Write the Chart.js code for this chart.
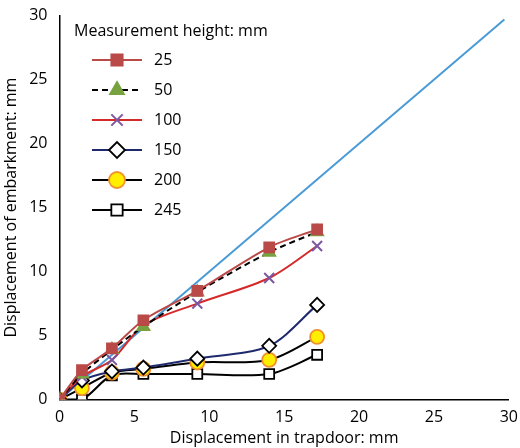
<!DOCTYPE html>
<html><head><meta charset="utf-8">
<script src="https://cdn.jsdelivr.net/npm/chart.js@4"></script>
<style>body{margin:0;background:#fff}#wrap{width:520px;height:448px}</style>
</head><body><div id="wrap"><canvas id="c"></canvas></div>
<script>
const xTrap = [0, 1.5, 3.5, 5.6, 9.2, 14, 17.2];
const h25  = [0, 2.3, 4.0, 6.2, 8.5, 11.9, 13.3];
const h50  = [0, 2.0, 3.9, 5.7, 8.4, 11.5, 13.1];
const h100 = [0, 1.8, 3.1, 5.8, 7.5, 9.5, 12.0];
const h150 = [0, 1.5, 2.2, 2.5, 3.2, 4.2, 7.4];
const h200 = [0, 0.9, 2.1, 2.4, 2.9, 3.1, 4.9];
const h245 = [0, 0, 1.9, 2.0, 2.0, 2.0, 3.5];
const refX = [0, 29.7];
const refY = [0, 29.7];

const pts = (ys, xs = xTrap) => ys.map((y, i) => ({ x: xs[i], y }));

const series = [
  { label: "25", data: h25, line: "#b94a48", fill: "#b94a48", stroke: "#b94a48", style: "rect", dash: [] },
  { label: "50", data: h50, line: "#000", fill: "#77a23f", stroke: "#77a23f", style: "triangle", dash: [6, 4] },
  { label: "100", data: h100, line: "#d42a2a", fill: "#7c56a0", stroke: "#7c56a0", style: "crossRot", dash: [] },
  { label: "150", data: h150, line: "#1f2a6e", fill: "#fff", stroke: "#000", style: "rectRot", dash: [] },
  { label: "200", data: h200, line: "#000", fill: "#ffee00", stroke: "#f0912c", style: "circle", dash: [] },
  { label: "245", data: h245, line: "#000", fill: "#fff", stroke: "#000", style: "rect", dash: [] }
];

const datasets = series.map(s => ({
  label: s.label, data: pts(s.data), borderColor: s.line, borderWidth: 2, borderDash: s.dash,
  pointStyle: s.style, pointBackgroundColor: s.fill, pointBorderColor: s.stroke,
  pointBorderWidth: s.style === "crossRot" ? 2 : 1.8, pointRadius: 7,
  tension: 0.3
}));
datasets.push({ label: "ref", data: pts(refY, refX), borderColor: "#4a9ad6", borderWidth: 2, pointRadius: 0 });

const legendPlugin = {
  id: "boxLegend",
  afterDraw(chart) {
    const ctx = chart.ctx;
    ctx.save();
    ctx.fillStyle = "#000";
    ctx.font = "16px 'Open Sans'";
    ctx.textBaseline = "middle";
    ctx.fillText("Measurement height: mm", 74, 31);
    series.forEach((s, i) => {
      const y = 60 + i * 30;
      ctx.strokeStyle = s.line; ctx.lineWidth = 2; ctx.setLineDash(s.dash);
      ctx.beginPath(); ctx.moveTo(92, y); ctx.lineTo(142, y); ctx.stroke();
      ctx.setLineDash([]);
      ctx.fillStyle = s.fill; ctx.strokeStyle = s.stroke;
      ctx.lineWidth = s.style === "crossRot" ? 2 : 1.8;
      Chart.helpers.drawPoint(ctx, { pointStyle: s.style, radius: 8, borderWidth: ctx.lineWidth }, 117, y);
      ctx.fillStyle = "#000";
      ctx.fillText(s.label, 154, y);
    });
    ctx.restore();
  }
};

const tickFont = { family: "'Open Sans'", size: 16 };
new Chart(document.getElementById("c"), {
  type: "line",
  data: { datasets },
  options: {
    responsive: true, maintainAspectRatio: false, animation: false,
    layout: { padding: { top: 10, right: 10 } },
    plugins: { legend: { display: false }, tooltip: { enabled: false } },
    scales: {
      x: { type: "linear", min: 0, max: 30,
        ticks: { stepSize: 5, color: "#000", font: tickFont, padding: 2 },
        grid: { display: false, drawTicks: true, tickLength: 6, tickColor: "#000" },
        border: { color: "#000", width: 1.5 },
        title: { display: true, text: "Displacement in trapdoor: mm", color: "#000", font: tickFont, padding: 0 } },
      y: { min: 0, max: 30,
        ticks: { stepSize: 5, color: "#000", font: tickFont, padding: 6 },
        grid: { display: false, tickLength: 6, tickColor: "#000" },
        border: { color: "#000", width: 1.5 },
        title: { display: true, text: "Displacement of embarkment: mm", color: "#000", font: tickFont, padding: 2 } }
    }
  },
  plugins: [legendPlugin]
});
</script></body></html>
